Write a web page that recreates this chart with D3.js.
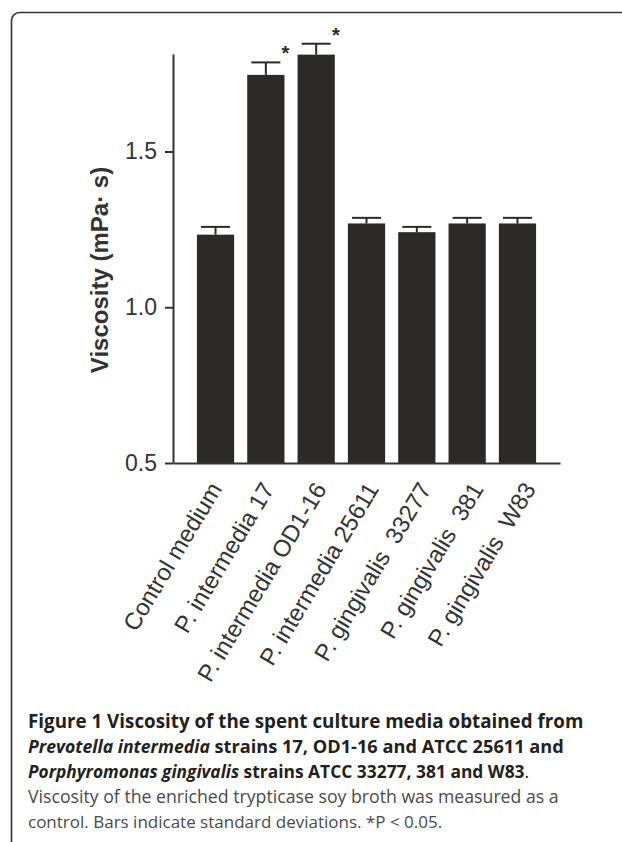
<!DOCTYPE html>
<html>
<head>
<meta charset="utf-8">
<script src="https://cdn.jsdelivr.net/npm/d3@7"></script>
<style>
  html, body { margin: 0; padding: 0; background: #fff; overflow: hidden; }
  svg { display: block; }
</style>
</head>
<body>
<div id="chart"></div>
<script>
// values
const categories = [
  "Control medium", "P. intermedia 17", "P. intermedia OD1-16", "P. intermedia 25611",
  "P. gingivalis  33277", "P. gingivalis  381", "P. gingivalis  W83"
];
const viscosity = [1.233, 1.746, 1.811, 1.269, 1.241, 1.269, 1.269];
const sd = [0.025, 0.040, 0.035, 0.018, 0.017, 0.018, 0.018];
const significant = [false, true, true, false, false, false, false];
const yTicks = [0.5, 1.0, 1.5];

const captionLines = [
  [{t: "Figure 1 Viscosity of the spent culture media obtained from", w: "bold", s: 18.8}],
  [{t: "Prevotella intermedia", w: "bold", i: true, s: 17.6}, {t: " strains 17, OD1-16 and ATCC 25611 and", w: "bold", s: 18.2}],
  [{t: "Porphyromonas gingivalis", w: "bold", i: true, s: 17.3}, {t: " strains ATCC 33277, 381 and W83", w: "bold", s: 17.4}, {t: ".", w: "normal", s: 17.4}],
  [{t: "Viscosity of the enriched trypticase soy broth was measured as a", w: "normal", c: "#4a4a4a", s: 17.7}],
  [{t: "control. Bars indicate standard deviations. *P < 0.05.", w: "normal", c: "#4a4a4a", s: 17}]
];

const W = 622, H = 842;
const ink = "#2b2a28";
const chartFont = "'Liberation Sans', Arial, Helvetica, sans-serif";

const svg = d3.select("#chart").append("svg")
  .attr("width", W).attr("height", H);

// frame: left edge, rounded top-left corner, top edge running off the page
svg.append("path")
  .attr("d", "M11.5,850 V20.5 A8,8 0 0 1 19.5,12.5 H640")
  .attr("fill", "none").attr("stroke", "#333").attr("stroke-width", 1.6);

// scales
const x = d3.scaleBand()
  .domain(categories)
  .range([173, 560])
  .paddingInner(0.26)
  .paddingOuter(0.475);
const xLab = d3.scalePoint()
  .domain(categories)
  .range([208, 522]);
const y = d3.scaleLinear()
  .domain([0.5, 1.813])
  .range([463, 54]);

// bars
svg.append("g").selectAll("rect")
  .data(categories)
  .join("rect")
  .attr("x", d => x(d))
  .attr("y", (d, i) => y(viscosity[i]))
  .attr("width", x.bandwidth())
  .attr("height", (d, i) => y(0.5) - y(viscosity[i]))
  .attr("fill", ink);

// error bars
const capW = x.bandwidth() * 0.78;
const err = svg.append("g").attr("stroke", ink).attr("stroke-width", 2);
categories.forEach((c, i) => {
  const cx = x(c) + x.bandwidth() / 2;
  err.append("line")
    .attr("x1", cx).attr("x2", cx)
    .attr("y1", y(viscosity[i])).attr("y2", y(viscosity[i] + sd[i]));
  err.append("line")
    .attr("x1", cx - capW / 2).attr("x2", cx + capW / 2)
    .attr("y1", y(viscosity[i] + sd[i])).attr("y2", y(viscosity[i] + sd[i]));
});

// significance stars
svg.append("g").selectAll("text")
  .data(categories.filter((c, i) => significant[i]))
  .join("text")
  .attr("x", d => x(d) + x.bandwidth() + 1)
  .attr("y", d => { const i = categories.indexOf(d); return y(viscosity[i] + sd[i]) - 2; })
  .attr("text-anchor", "middle")
  .attr("font-family", chartFont)
  .attr("font-weight", "bold")
  .attr("font-size", 20)
  .attr("fill", ink)
  .text("*");

// y axis
const yAxis = svg.append("g")
  .attr("transform", "translate(173,0)")
  .call(d3.axisLeft(y).tickValues(yTicks).tickFormat(d3.format(".1f")).tickSize(8).tickSizeOuter(0).tickPadding(8));
yAxis.select(".domain").attr("stroke", "#333").attr("stroke-width", 2);
yAxis.selectAll(".tick line").attr("stroke", "#333").attr("stroke-width", 2);
yAxis.selectAll(".tick text")
  .attr("font-family", chartFont).attr("font-size", 23).attr("fill", "#333");

// x axis (line only) and rotated labels
const xAxis = svg.append("g")
  .attr("transform", "translate(0,463)")
  .call(d3.axisBottom(x).tickSize(0).tickSizeOuter(0).tickFormat(""));
xAxis.select(".domain").attr("stroke", "#333").attr("stroke-width", 2);

svg.append("g").selectAll("text")
  .data(categories)
  .join("text")
  .attr("transform", d => `translate(${xLab(d)},480) rotate(-59)`)
  .attr("dy", "0.72em")
  .attr("text-anchor", "end")
  .attr("font-family", chartFont)
  .attr("font-size", 23.8)
  .attr("fill", "#333")
  .style("white-space", "pre")
  .text(d => d);

// y axis title
svg.append("text")
  .attr("transform", "translate(108,270) rotate(-90)")
  .attr("text-anchor", "middle")
  .attr("font-family", chartFont)
  .attr("font-weight", "bold")
  .attr("font-size", 24)
  .attr("fill", "#333")
  .text("Viscosity (mPa\u00b7 s)");

// caption
const cap = svg.append("g")
  .attr("font-family", "'Open Sans', 'DejaVu Sans', sans-serif");
captionLines.forEach((line, k) => {
  const t = cap.append("text")
    .attr("x", 28)
    .attr("y", 728 + k * 25)
    .style("white-space", "pre");
  line.forEach(s => {
    t.append("tspan")
      .attr("font-size", s.s)
      .attr("font-weight", s.w)
      .attr("font-style", s.i ? "italic" : "normal")
      .attr("fill", s.c || "#231f20")
      .text(s.t);
  });
});
</script>
</body>
</html>
